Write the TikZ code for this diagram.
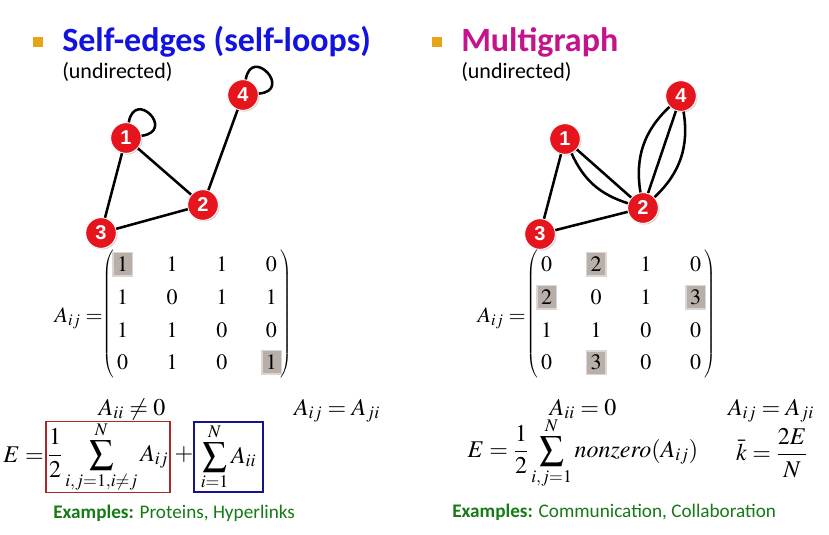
\documentclass[tikz,border=0pt]{standalone}
\usepackage{mathptmx}
\usepackage[no-math]{fontspec}
\newfontfamily\carlito{Carlito}
\newfontfamily\arialfont{Liberation Sans}
\usetikzlibrary{matrix,shadows,backgrounds}
\definecolor{vred}{RGB}{230,20,28}
\definecolor{tblue}{RGB}{18,18,225}
\definecolor{tmag}{RGB}{196,20,140}
\definecolor{bul}{RGB}{232,163,23}
\definecolor{exg}{RGB}{22,122,22}
\definecolor{hl}{RGB}{184,175,168}
\definecolor{bred}{RGB}{170,40,40}
\definecolor{bblue}{RGB}{20,20,140}
\newcommand{\mfont}{\fontsize{16.5}{20}\selectfont}
\newcommand{\efont}{\fontsize{18}{22}\selectfont}
\begin{document}
\begin{tikzpicture}[x=0.75pt,y=-0.75pt,
  vtx/.style={circle, fill=vred, draw=white, line width=0.7pt, minimum size=23pt, inner sep=0pt,
    text=white, font=\arialfont\bfseries\fontsize{15}{15}\selectfont,
    drop shadow={opacity=0.35, shadow xshift=0.9pt, shadow yshift=-0.9pt}},
  edge/.style={draw=black, line width=1.9pt},
  title/.style={anchor=base west, inner sep=0pt, font=\carlito\bfseries\fontsize{25.5}{30}\selectfont},
  sub/.style={anchor=base west, inner sep=0pt, font=\carlito\fontsize{16.5}{19}\selectfont},
  exa/.style={anchor=base west, inner sep=0pt, text=exg, font=\carlito\fontsize{14.4}{17}\selectfont},
  eq/.style={inner sep=0pt, font=\efont},
  mat/.style={matrix of math nodes, left delimiter=(, right delimiter=), column sep=29pt, row sep=0pt,
    inner sep=1pt, font=\mfont, nodes={minimum height=24.4pt, inner sep=0pt}},
  hlbox/.style={fill=hl}
]
\begin{scope}[on background layer]
\fill[white] (0,0) rectangle (829,535);
\end{scope}
\useasboundingbox (0,0) rectangle (829,535);

% bullets and titles
\fill[bul] (33,37) rectangle (43,47);
\fill[bul] (432,37) rectangle (442,47);
\node[title, text=tblue] (t1) at (62,52) {Self-edges (self-loops)};
\node[title, text=tmag] (t2) at (461,52) {Multigraph};
\node[sub] (s1) at (62,79) {(undirected)};
\node[sub] (s2) at (461,79) {(undirected)};

% left graph
\node[vtx] (a1) at (126,138) {1};
\node[vtx] (a2) at (203,205) {2};
\node[vtx] (a3) at (101,233) {3};
\node[vtx] (a4) at (243,95) {4};
\draw[edge] (a1) -- (a3);
\draw[edge] (a1) -- (a2);
\draw[edge] (a3) -- (a2);
\draw[edge] (a2) -- (a4);
\draw[edge] (a1) to[out=80,in=8,min distance=26pt] (a1);
\draw[edge] (a4) to[out=80,in=5,min distance=26pt] (a4);

% right graph
\node[vtx] (b1) at (565,139) {1};
\node[vtx] (b2) at (643,208) {2};
\node[vtx] (b3) at (540,234) {3};
\node[vtx] (b4) at (681,96) {4};
\draw[edge] (b1) -- (b3);
\draw[edge] (b3) -- (b2);
\draw[edge] (b1) -- (b2);
\draw[edge] (b1) to[bend right=24] (b2);
\draw[edge] (b2) -- (b4);
\draw[edge] (b2) to[bend left=28] (b4);
\draw[edge] (b2) to[bend right=28] (b4);

% left matrix
\matrix (mL) [mat] at (197,313.5) {
1 & 1 & 1 & 0\\
1 & 0 & 1 & 1\\
1 & 1 & 0 & 0\\
0 & 1 & 0 & 1\\
};
\node[inner sep=0pt, anchor=east, font=\mfont] (aL) at (103,318) {$A_{ij}=$};
% right matrix
\matrix (mR) [mat] at (621,313.5) {
0 & 2 & 1 & 0\\
2 & 0 & 1 & 3\\
1 & 1 & 0 & 0\\
0 & 3 & 0 & 0\\
};
\node[inner sep=0pt, anchor=east, font=\mfont] (aR) at (526,318) {$A_{ij}=$};

\begin{scope}[on background layer]
\foreach \c in {mL-1-1, mL-4-4, mR-1-2, mR-2-1, mR-2-4, mR-4-2}{
  \fill[hl, opacity=0.5] (\c.center) ++(-10.5,-12.5) rectangle ++(21,25);
  \fill[hl] (\c.center) ++(-9,-11) rectangle ++(18,22);
}
\end{scope}

% left equations
\node[eq, anchor=base] (e1) at (132,415) {$A_{ii}\neq 0$};
\node[eq, anchor=base] (e2) at (337,415) {$A_{ij}=A_{ji}$};
\node[eq, anchor=east] (e3) at (44,455) {$E=$};
\node[eq, draw=bred, line width=0.9pt, minimum width=93pt, minimum height=52.5pt] (e4) at (108,457)
  {$\displaystyle \frac{1}{2}\sum_{i,j=1,i\neq j}^{N} A_{ij}$};
\node[eq] (e5) at (184,455) {$+$};
\node[eq, draw=bblue, line width=0.9pt, minimum width=51.75pt, minimum height=52.5pt] (e6) at (228.5,457)
  {$\displaystyle \sum_{i=1}^{N} A_{ii}$};

% right equations
\node[eq, anchor=base] (f1) at (583,415) {$A_{ii}=0$};
\node[eq, anchor=base] (f2) at (771,415) {$A_{ij}=A_{ji}$};
\node[eq] (f3) at (583,453) {$\displaystyle E=\frac{1}{2}\sum_{i,j=1}^{N} nonzero(A_{ij})$};
\node[eq] (f4) at (772,453) {$\displaystyle \bar{k}=\frac{2E}{N}$};

% examples
\node[exa] (x1) at (53,518) {\bfseries Examples: \mdseries Proteins, Hyperlinks};
\node[exa] (x2) at (452,517) {\bfseries Examples: \mdseries Communication, Collaboration};
\end{tikzpicture}
\end{document}
